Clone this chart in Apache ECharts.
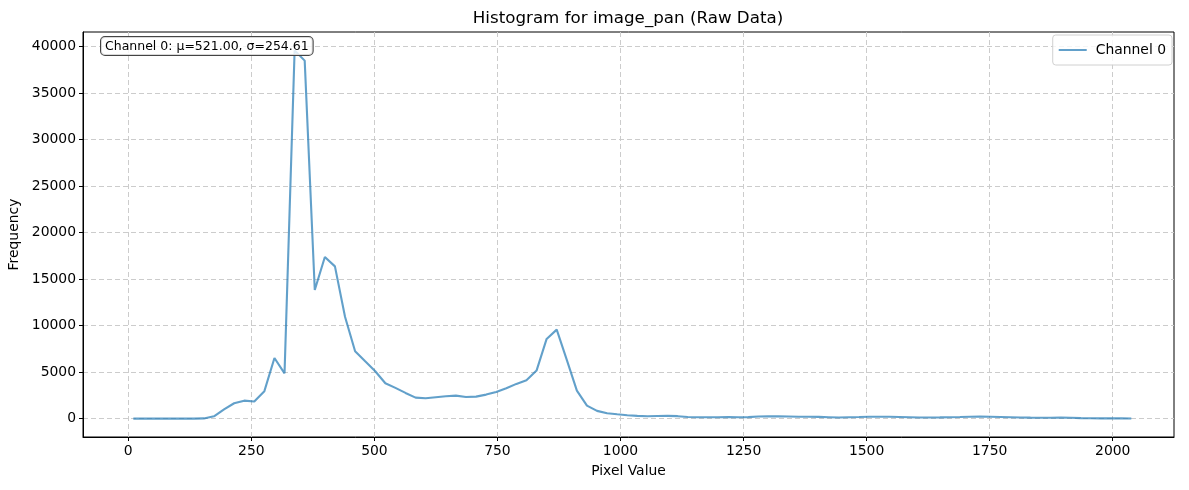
<!DOCTYPE html>
<html>
<head>
<meta charset="utf-8">
<title>Histogram for image_pan (Raw Data)</title>
<script src="https://cdn.jsdelivr.net/npm/echarts@6/dist/echarts.min.js"></script>
<style>
  html, body { margin: 0; padding: 0; background: #fff; }
  #chart { width: 1189px; height: 490px; }
</style>
</head>
<body>
<div id="chart"></div>
<script>
// bin centers (pixel value) of the 100-bin histogram
var binCenters = [
  10.24, 30.72, 51.2, 71.68, 92.16, 112.64, 133.12, 153.6, 174.08, 194.56,
  215.04, 235.52, 256, 276.48, 296.96, 317.44, 337.92, 358.4, 378.88, 399.36,
  419.84, 440.32, 460.8, 481.28, 501.76, 522.24, 542.72, 563.2, 583.68, 604.16,
  624.64, 645.12, 665.6, 686.08, 706.56, 727.04, 747.52, 768, 788.48, 808.96,
  829.44, 849.92, 870.4, 890.88, 911.36, 931.84, 952.32, 972.8, 993.28, 1013.76,
  1034.24, 1054.72, 1075.2, 1095.68, 1116.16, 1136.64, 1157.12, 1177.6, 1198.08, 1218.56,
  1239.04, 1259.52, 1280, 1300.48, 1320.96, 1341.44, 1361.92, 1382.4, 1402.88, 1423.36,
  1443.84, 1464.32, 1484.8, 1505.28, 1525.76, 1546.24, 1566.72, 1587.2, 1607.68, 1628.16,
  1648.64, 1669.12, 1689.6, 1710.08, 1730.56, 1751.04, 1771.52, 1792, 1812.48, 1832.96,
  1853.44, 1873.92, 1894.4, 1914.88, 1935.36, 1955.84, 1976.32, 1996.8, 2017.28, 2037.76
]

// frequency per bin, channel 0
var channel0 = [
  0, 0, 0, 0, 0, 0, 0, 20, 250, 1000,
  1650, 1930, 1830, 2950, 6520, 4870, 39600, 38500, 13830, 17380,
  16370, 10950, 7240, 6160, 5090, 3800, 3300, 2760, 2260, 2180,
  2290, 2400, 2470, 2330, 2360, 2580, 2870, 3260, 3730, 4120,
  5160, 8570, 9570, 6310, 3010, 1400, 830, 570, 460, 360,
  290, 250, 280, 290, 260, 170, 150, 140, 150, 160,
  150, 160, 230, 250, 240, 220, 190, 200, 180, 150,
  120, 150, 170, 200, 190, 190, 170, 150, 110, 120,
  130, 150, 170, 200, 210, 190, 170, 150, 120, 100,
  90, 90, 100, 90, 50, 30, 20, 20, 20, 10
]

var xTicks = [0, 250, 500, 750, 1000, 1250, 1500, 1750, 2000]
var yTicks = [0, 5000, 10000, 15000, 20000, 25000, 30000, 35000, 40000]

var statsText = 'Channel 0: μ=521.00, σ=254.61'

var chart = echarts.init(document.getElementById('chart'))
var font = 'DejaVu Sans'
var gridLine = { show: true, lineStyle: { color: '#cccccc', width: 1, type: [5, 3] } }
var plain = function (v) { return String(v) }

var option = {
  animation: false,
  textStyle: { fontFamily: font },
  grid: {
    left: 83, right: 15, top: 32, bottom: 53,
    outerBoundsMode: 'none', containLabel: false,
    show: true, borderColor: '#000', borderWidth: 1, backgroundColor: 'transparent'
  },
  legend: {
    right: 17, top: 35,
    icon: 'rect', itemWidth: 28, itemHeight: 2, itemGap: 10,
    padding: [8, 6, 8, 6],
    borderColor: '#d0d0d0', borderWidth: 1, borderRadius: 3,
    backgroundColor: 'rgba(255,255,255,0.8)',
    textStyle: { fontFamily: font, fontSize: 13.9, color: '#000', padding: [0, 0, 0, 4] },
    data: ['Channel 0']
  },
  xAxis: {
    type: 'value',
    min: -92, max: 2124.5,
    name: 'Pixel Value', nameLocation: 'middle', nameGap: 27,
    nameTextStyle: { fontFamily: font, fontSize: 13.9, color: '#000' },
    axisLine: { onZero: false, lineStyle: { color: '#000', width: 1 } },
    axisTick: { show: true, length: 4, customValues: xTicks, lineStyle: { color: '#000' } },
    axisLabel: { customValues: xTicks, formatter: plain, margin: 7, fontFamily: font, fontSize: 13.9, color: '#000' },
    splitLine: gridLine
  },
  yAxis: {
    type: 'value',
    min: -1980, max: 41580,
    name: 'Frequency', nameLocation: 'middle', nameGap: 59, nameRotate: 90,
    nameTextStyle: { fontFamily: font, fontSize: 13.9, color: '#000' },
    axisLine: { show: true, onZero: false, lineStyle: { color: '#000', width: 1 } },
    axisTick: { show: true, length: 4, customValues: yTicks, lineStyle: { color: '#000' } },
    axisLabel: { customValues: yTicks, formatter: plain, margin: 7, fontFamily: font, fontSize: 13.9, color: '#000' },
    splitLine: gridLine
  },
  series: [
    {
      name: 'Channel 0',
      type: 'line',
      showSymbol: false,
      symbol: 'none',
      color: 'rgba(31,119,180,0.7)',
      lineStyle: { width: 2.1, color: 'rgba(31,119,180,0.7)' },
      data: binCenters.map(function (x, i) { return [x, channel0[i]] })
    }
  ],
  graphic: [
    {
      type: 'text',
      x: 628, y: 10,
      style: {
        text: 'Histogram for image_pan (Raw Data)',
        font: '16.7px "DejaVu Sans"', fill: '#000', align: 'center'
      }
    },
    {
      type: 'text',
      left: 100, top: 36, z: 100,
      style: {
        text: statsText,
        font: '12.5px "DejaVu Sans"', fill: '#000',
        backgroundColor: 'rgba(255,255,255,0.8)',
        borderColor: '#444', borderWidth: 1, borderRadius: 4,
        padding: [3, 4, 2, 4]
      }
    }
  ]
}
chart.setOption(option)
</script>
</body>
</html>
